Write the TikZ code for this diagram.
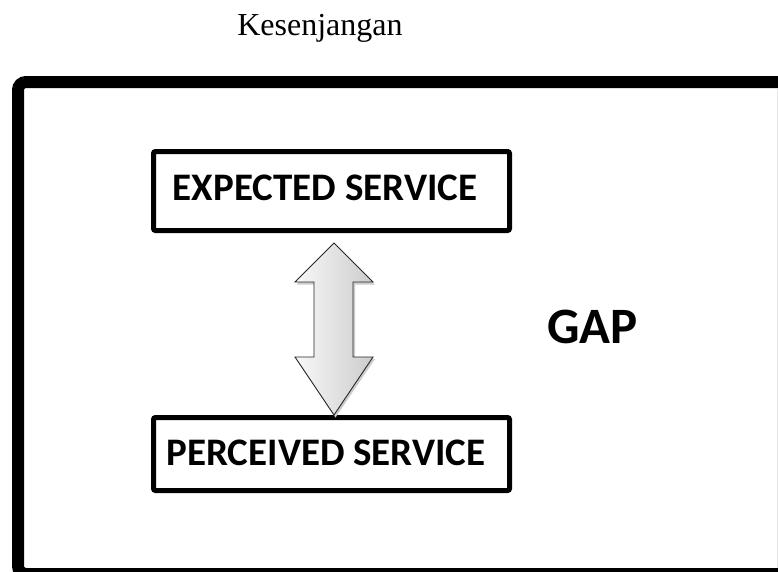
\documentclass[tikz,border=0pt]{standalone}
\usepackage{fontspec}
\setmainfont{Liberation Serif}
\newfontfamily\calib{Carlito}[BoldFont={Carlito Bold}]
\begin{document}
\begin{tikzpicture}[x=1pt,y=-1pt,
  box/.style={draw=black,line width=5pt,rounded corners=2pt},
  boxtext/.style={font=\calib\bfseries\fontsize{39}{44}\selectfont,inner sep=0pt,anchor=base},
  frame/.style={draw=black,line width=12pt,rounded corners=8pt}]
\fill[white] (0,0) rectangle (778,571);
\useasboundingbox (0,0) rectangle (778,571);
\begin{scope}
\clip (0,0) rectangle (778,571);
\draw[frame] (18,82) rectangle (830,574);
\end{scope}
\draw[gray!20,line width=0.8pt] (777.6,88) -- (777.6,568);
\node[font=\fontsize{32}{36}\selectfont,inner sep=0pt,anchor=base] (title) at (320,35) {Kesenjangan};
\draw[box] (153.5,151.5) rectangle (509.5,230.5);
\node[boxtext] (exp) at (325,200) {EXPECTED SERVICE};
\draw[box] (153.5,417.5) rectangle (509.5,490.5);
\node[boxtext] (per) at (326,465) {PERCEIVED SERVICE};
\node[font=\calib\bfseries\fontsize{51}{56}\selectfont,inner sep=0pt,anchor=base] (gap) at (592.5,343) {GAP};
% arrow shadow
\fill[black!20] (335.5,245) -- (375,284.5) -- (355,284.5) -- (355,359) -- (375,359) -- (335.5,417.5) -- (296.5,359) -- (315.5,359) -- (315.5,284.5) -- (296.5,284.5) -- cycle;
\shade[left color=gray!5,right color=gray!40,draw=black!85,line width=0.9pt]
 (334,243) -- (373,282) -- (353,282) -- (353,357) -- (373,357) -- (334,415) -- (295,357) -- (314,357) -- (314,282) -- (295,282) -- cycle;
\end{tikzpicture}
\end{document}
